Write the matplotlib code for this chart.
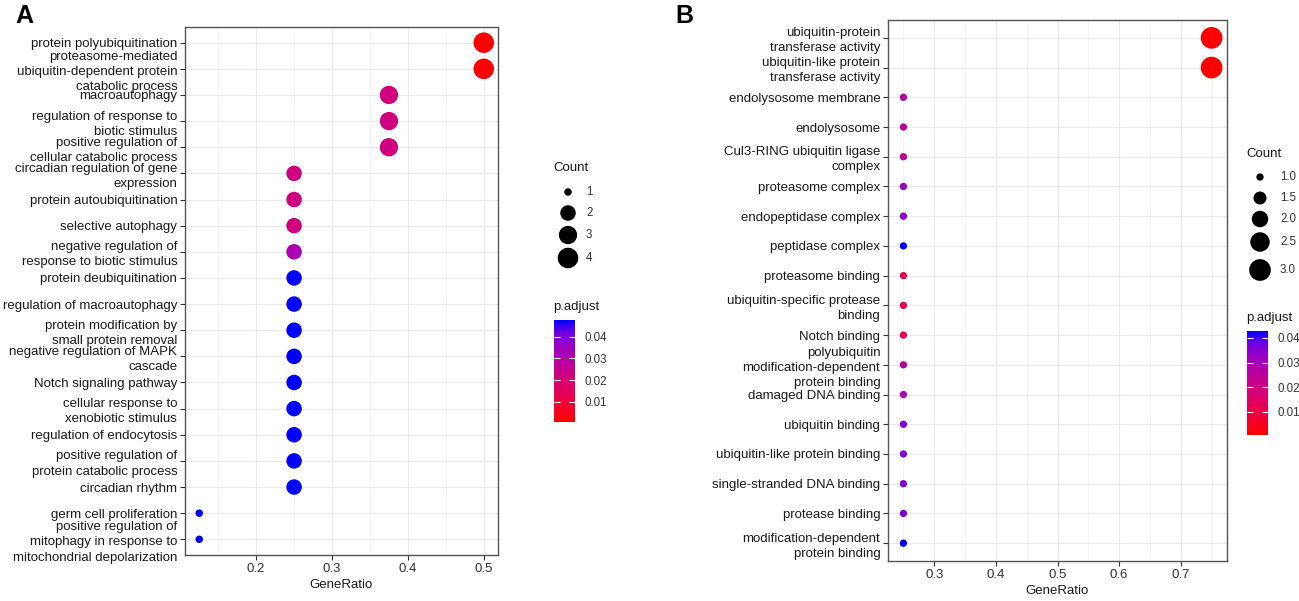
import numpy as np
import matplotlib.pyplot as plt
from matplotlib.colors import LinearSegmentedColormap, Normalize
from matplotlib.cm import ScalarMappable

plt.rcParams['font.family'] = ['Liberation Sans', 'DejaVu Sans']

# ---- panel A : GO biological process ----
terms_a = [
    "protein polyubiquitination",
    "proteasome-mediated\nubiquitin-dependent protein\ncatabolic process",
    "macroautophagy",
    "regulation of response to\nbiotic stimulus",
    "positive regulation of\ncellular catabolic process",
    "circadian regulation of gene\nexpression",
    "protein autoubiquitination",
    "selective autophagy",
    "negative regulation of\nresponse to biotic stimulus",
    "protein deubiquitination",
    "regulation of macroautophagy",
    "protein modification by\nsmall protein removal",
    "negative regulation of MAPK\ncascade",
    "Notch signaling pathway",
    "cellular response to\nxenobiotic stimulus",
    "regulation of endocytosis",
    "positive regulation of\nprotein catabolic process",
    "circadian rhythm",
    "germ cell proliferation",
    "positive regulation of\nmitophagy in response to\nmitochondrial depolarization",
]
ratio_a = [0.5, 0.5, 0.375, 0.375, 0.375] + [0.25] * 13 + [0.125, 0.125]
count_a = [4, 4, 3, 3, 3] + [2] * 13 + [1, 1]
padj_a = [0.0007, 0.0007, 0.022, 0.022, 0.022, 0.022, 0.022, 0.022, 0.032,
          0.0477, 0.0477, 0.0477, 0.0477, 0.0477, 0.0477, 0.0477, 0.0477, 0.0477,
          0.0477, 0.0477]
xticks_a = [0.2, 0.3, 0.4, 0.5]
count_leg_a = [1, 2, 3, 4]

# ---- panel B : GO cellular component / molecular function ----
terms_b = [
    "ubiquitin-protein\ntransferase activity",
    "ubiquitin-like protein\ntransferase activity",
    "endolysosome membrane",
    "endolysosome",
    "Cul3-RING ubiquitin ligase\ncomplex",
    "proteasome complex",
    "endopeptidase complex",
    "peptidase complex",
    "proteasome binding",
    "ubiquitin-specific protease\nbinding",
    "Notch binding",
    "polyubiquitin\nmodification-dependent\nprotein binding",
    "damaged DNA binding",
    "ubiquitin binding",
    "ubiquitin-like protein binding",
    "single-stranded DNA binding",
    "protease binding",
    "modification-dependent\nprotein binding",
]
ratio_b = [0.75, 0.75] + [0.25] * 16
count_b = [3, 3] + [1] * 16
padj_b = [0.0006, 0.0006, 0.026, 0.026, 0.024, 0.032, 0.034, 0.0428, 0.011,
          0.011, 0.011, 0.026, 0.028, 0.035, 0.035, 0.035, 0.037, 0.0428]
xticks_b = [0.3, 0.4, 0.5, 0.6, 0.7]
count_leg_b = [1.0, 1.5, 2.0, 2.5, 3.0]

cbar_ticks = [0.01, 0.02, 0.03, 0.04]

# ggplot-like red -> blue gradient (Lab interpolation, approximated)
cmap = LinearSegmentedColormap.from_list(
    "rb", [(0, "#FF0000"), (0.25, "#E8004F"), (0.5, "#CA0089"),
           (0.75, "#9A00C3"), (0.875, "#7300E0"), (1, "#0000FF")])

W, H = 1299, 601
fig = plt.figure(figsize=(W / 100, H / 100), dpi=100)
TXT = "#1a1a1a"
FS = 9.5


def px(l, t, r, b):
    return [l / W, 1 - b / H, (r - l) / W, (b - t) / H]


def diam(c, ref_c, ref_d):
    # dot diameter in px -> scatter size in pt^2
    d = np.interp(c, ref_c, ref_d)
    return (d * 0.72) ** 2


def dotplot(rect, terms, ratio, count, padj, xticks, xlim, size_ref):
    ax = fig.add_axes(rect)
    n = len(terms)
    ypos = np.arange(n)[::-1]
    norm = Normalize(min(padj), max(padj))
    ax.scatter(ratio, ypos, s=diam(count, *size_ref), c=padj, cmap=cmap,
               norm=norm, linewidths=0, zorder=3)
    ax.set_xlim(*xlim)
    ax.set_ylim(-0.6, n - 0.4)
    ax.set_yticks(ypos)
    ax.set_yticklabels(terms, fontsize=FS, color=TXT, linespacing=1.35,
                       multialignment='right')
    ax.set_xticks(xticks)
    ax.set_xticks(np.arange(xticks[0] - 0.05, xlim[1], 0.1), minor=True)
    ax.set_xticklabels([f"{v:.1f}" for v in xticks], fontsize=FS, color="#333333")
    ax.set_xlabel("GeneRatio", fontsize=FS, color=TXT, labelpad=3)
    ax.grid(True, which='major', color="#ebebeb", lw=0.8, zorder=0)
    ax.grid(True, which='minor', axis='x', color="#f2f2f2", lw=0.6, zorder=0)
    ax.tick_params(axis='both', which='major', length=3.5, width=0.8,
                   color="#333333", pad=2)
    ax.tick_params(axis='x', which='minor', length=0)
    for sp in ax.spines.values():
        sp.set_color("#555555")
        sp.set_linewidth(1.0)
    return norm


norm_a = dotplot(px(185, 27, 498, 555), terms_a, ratio_a, count_a, padj_a,
                 xticks_a, (0.10625, 0.51875), ([1, 2, 3, 4], [7.5, 15.5, 18.3, 20.5]))
norm_b = dotplot(px(888, 20, 1227, 561), terms_b, ratio_b, count_b, padj_b,
                 xticks_b, (0.225, 0.775), ([1, 1.5, 2, 2.5, 3], [7.3, 13, 16.5, 19.5, 21.7]))

# legends drawn on an overlay in pixel units
ov = fig.add_axes([0, 0, 1, 1])
ov.set_xlim(0, W)
ov.set_ylim(H, 0)
ov.axis('off')

# Count legend A
ov.text(553, 168, "Count", fontsize=FS, color=TXT, va='center')
ys = [192, 213, 235, 258]
ov.scatter([568] * 4, ys, s=diam(count_leg_a, [1, 2, 3, 4], [7.5, 15.5, 18.3, 20.5]),
           color='black', linewidths=0)
for y, c in zip(ys, count_leg_a):
    ov.text(586, y, str(c), fontsize=8.3, color="#333333", va='center')

# Count legend B
ov.text(1246, 154, "Count", fontsize=FS, color=TXT, va='center')
ys = [177, 198, 219, 242, 270]
ov.scatter([1260] * 5, ys, s=diam(count_leg_b, [1, 1.5, 2, 2.5, 3], [7.3, 13, 16.5, 19.5, 21.7]),
           color='black', linewidths=0)
for y, c in zip(ys, count_leg_b):
    ov.text(1280, y, f"{c:.1f}", fontsize=8.3, color="#333333", va='center')

# p.adjust colourbars
ov.text(553, 307, "p.adjust", fontsize=FS, color=TXT, va='center')
ov.text(1246, 318, "p.adjust", fontsize=FS, color=TXT, va='center')
for rect, norm in [(px(554, 320, 575, 422), norm_a), (px(1247, 331, 1268, 435), norm_b)]:
    cax = fig.add_axes(rect)
    cb = fig.colorbar(ScalarMappable(norm=norm, cmap=cmap), cax=cax)
    cb.set_ticks(cbar_ticks)
    cb.set_ticklabels([f"{v:.2f}" for v in cbar_ticks])
    cb.outline.set_visible(False)
    cax.tick_params(which='both', direction='in', color='white', length=4,
                    width=0.8, left=True, right=True, labelsize=8.3,
                    labelcolor="#333333", pad=7)
    cax.minorticks_off()

# panel letters
fig.text(15 / W, 1 - 16 / H, "A", fontsize=18, fontweight='bold', va='center')
fig.text(675 / W, 1 - 16 / H, "B", fontsize=18, fontweight='bold', va='center')

fig.savefig("out.png", dpi=100)
